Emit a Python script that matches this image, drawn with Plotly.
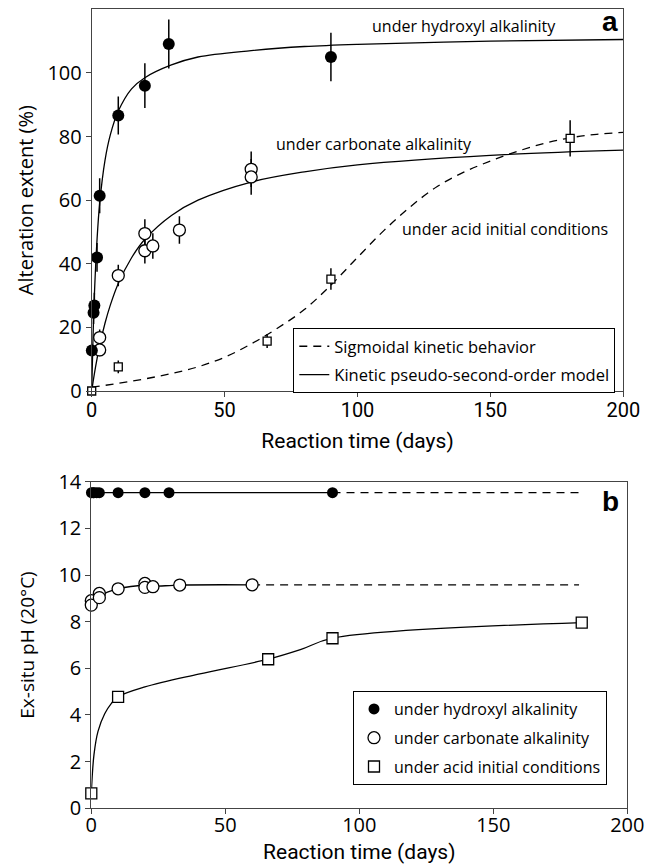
import plotly.graph_objects as go

# ---------------- Panel a: alteration extent ----------------
hyd_t = [0.05, 0.7, 1, 2, 3, 10, 20, 29, 90]
hyd_alt = [12.7, 24.6, 26.9, 42.0, 61.4, 86.6, 96.0, 109.1, 105.0]
hyd_err = [2.0, 3.5, 4.0, 4.5, 5.5, 6.0, 7.0, 7.7, 7.6]

carb_t = [3, 3, 10, 20, 20, 23, 33, 60, 60]
carb_alt = [16.8, 12.9, 36.3, 49.5, 44.1, 45.6, 50.6, 69.7, 67.3]
carb_err = [2.5, 2.0, 3.4, 4.5, 4.0, 4.0, 4.3, 5.6, 5.6]

acid_t = [0, 10, 66, 90, 180]
acid_alt = [0.0, 7.6, 15.7, 35.2, 79.4]
acid_err = [0.8, 2.0, 2.2, 3.4, 5.7]

# fitted curves
hyd_fit_t = [0, 0.5, 1, 2, 3, 5, 7, 10, 15, 20, 30, 40, 60, 80, 100, 150, 200]
hyd_fit_y = [0, 17, 30, 47.5, 59, 72.5, 80.5, 88, 95, 98.5, 102.5, 105, 107, 108.3, 109, 110, 110.5]

carb_fit_t = [0, 1, 2, 3, 5, 7, 10, 15, 20, 30, 40, 60, 80, 100, 150, 200]
carb_fit_y = [0, 5.4, 10.1, 14.3, 21.3, 27, 33.8, 41.9, 47.7, 55.2, 60, 65.7, 68.9, 71.1, 74.1, 75.7]

sig_fit_t = [0, 10, 20, 30, 40, 50, 60, 70, 80, 90, 100, 110, 120, 130, 140, 150, 160, 170, 180, 190, 200]
sig_fit_y = [1.2, 2.4, 3.8, 5.5, 7.6, 10.6, 14.8, 19.8, 25.6, 33.3, 42, 50.5, 58, 64.3, 68.8, 72.3, 75.3,
             77.8, 79.6, 80.7, 81.3]

# ---------------- Panel b: ex-situ pH ----------------
hyd_ph_t = [0.05, 0.7, 1, 2, 3, 10, 20, 29, 90]
hyd_ph = [13.53, 13.53, 13.53, 13.53, 13.53, 13.53, 13.53, 13.53, 13.53]
hyd_ph_ext_t = [90, 184]
hyd_ph_ext_y = [13.53, 13.53]

carb_ph_t = [0, 0, 3, 3, 10, 20, 20, 23, 33, 60]
carb_ph = [8.90, 8.71, 9.21, 9.03, 9.41, 9.64, 9.47, 9.50, 9.57, 9.58]
carb_line_t = [0, 3, 10, 20, 23, 33, 60]
carb_line_y = [8.78, 9.1, 9.41, 9.55, 9.52, 9.57, 9.58]
carb_ph_ext_t = [60, 182]
carb_ph_ext_y = [9.58, 9.58]

acid_ph_t = [0, 10, 66, 90, 183]
acid_ph = [0.64, 4.78, 6.39, 7.29, 7.96]
acid_line_t = [0, 1, 2.5, 5, 7.5, 10, 20, 40, 66, 78, 90, 183]
acid_line_y = [0.64, 2.3, 3.3, 4.05, 4.5, 4.78, 5.2, 5.75, 6.39, 6.8, 7.29, 7.96]

x_ticks = [0, 50, 100, 150, 200]
ya_ticks = [0, 20, 40, 60, 80, 100]
yb_ticks = [0, 2, 4, 6, 8, 10, 12, 14]

LINE = dict(color='black', width=1.3)
DASH = dict(color='black', width=1.3, dash='8px,6px')
ERR = lambda arr: dict(type='data', array=arr, visible=True, width=0, thickness=1.5, color='black')
OS = 'Open Sans'
RB = 'Roboto'

fig = go.Figure()

# panel a curves
fig.add_trace(go.Scatter(x=sig_fit_t, y=sig_fit_y, mode='lines', line=DASH, line_shape='spline',
                         name='Sigmoidal kinetic behavior', legend='legend', legendrank=1,
                         legendgroup='g1', xaxis='x', yaxis='y', hoverinfo='skip'))
fig.add_trace(go.Scatter(x=hyd_fit_t, y=hyd_fit_y, mode='lines', line=LINE, line_shape='spline',
                         name='Kinetic pseudo-second-order model', legend='legend', legendrank=2,
                         legendgroup='g2', xaxis='x', yaxis='y', hoverinfo='skip'))
fig.add_trace(go.Scatter(x=carb_fit_t, y=carb_fit_y, mode='lines', line=LINE, line_shape='spline',
                         showlegend=False, xaxis='x', yaxis='y', hoverinfo='skip'))

# panel a data
fig.add_trace(go.Scatter(x=acid_t, y=acid_alt, mode='markers', error_y=ERR(acid_err),
                         marker=dict(symbol='square', size=8, color='white', line=dict(color='black', width=1.3)),
                         showlegend=False, cliponaxis=False, xaxis='x', yaxis='y'))
fig.add_trace(go.Scatter(x=carb_t, y=carb_alt, mode='markers', error_y=ERR(carb_err),
                         marker=dict(symbol='circle', size=12, color='white', line=dict(color='black', width=1.3)),
                         showlegend=False, cliponaxis=False, xaxis='x', yaxis='y'))
fig.add_trace(go.Scatter(x=hyd_t, y=hyd_alt, mode='markers', error_y=ERR(hyd_err),
                         marker=dict(symbol='circle', size=12, color='black'),
                         showlegend=False, cliponaxis=False, xaxis='x', yaxis='y'))

# panel b lines
fig.add_trace(go.Scatter(x=hyd_ph_t, y=hyd_ph, mode='lines', line=LINE, showlegend=False,
                         xaxis='x2', yaxis='y2', hoverinfo='skip'))
fig.add_trace(go.Scatter(x=hyd_ph_ext_t, y=hyd_ph_ext_y, mode='lines', line=DASH, showlegend=False,
                         xaxis='x2', yaxis='y2', hoverinfo='skip'))
fig.add_trace(go.Scatter(x=carb_line_t, y=carb_line_y, mode='lines', line=LINE, line_shape='spline',
                         showlegend=False, xaxis='x2', yaxis='y2', hoverinfo='skip'))
fig.add_trace(go.Scatter(x=carb_ph_ext_t, y=carb_ph_ext_y, mode='lines', line=DASH, showlegend=False,
                         xaxis='x2', yaxis='y2', hoverinfo='skip'))
fig.add_trace(go.Scatter(x=acid_line_t, y=acid_line_y, mode='lines', line=LINE, line_shape='spline',
                         showlegend=False, xaxis='x2', yaxis='y2', hoverinfo='skip'))

# panel b markers
fig.add_trace(go.Scatter(x=hyd_ph_t, y=hyd_ph, mode='markers', name='under hydroxyl alkalinity',
                         marker=dict(symbol='circle', size=11, color='black'),
                         legend='legend2', legendgroup='h', legendrank=1, cliponaxis=False,
                         xaxis='x2', yaxis='y2'))
fig.add_trace(go.Scatter(x=carb_ph_t, y=carb_ph, mode='markers', name='under carbonate alkalinity',
                         marker=dict(symbol='circle', size=12, color='white', line=dict(color='black', width=1.3)),
                         legend='legend2', legendgroup='c', legendrank=2, cliponaxis=False,
                         xaxis='x2', yaxis='y2'))
fig.add_trace(go.Scatter(x=acid_ph_t, y=acid_ph, mode='markers', name='under acid initial conditions',
                         marker=dict(symbol='square', size=11, color='white', line=dict(color='black', width=1.3)),
                         legend='legend2', legendgroup='a', legendrank=3, cliponaxis=False,
                         xaxis='x2', yaxis='y2'))

axis_common = dict(showline=True, linecolor='#444', linewidth=1, mirror=True, ticks='outside',
                   ticklen=5, tickwidth=1, tickcolor='#444', showgrid=False, zeroline=False,
                   automargin=False)

fig.update_layout(
    width=654, height=864,
    margin=dict(l=0, r=0, t=0, b=0, autoexpand=False),
    paper_bgcolor='white', plot_bgcolor='white',
    xaxis=dict(domain=[91.7 / 654, 623.3 / 654], range=[0, 200], tickvals=x_ticks, anchor='y',
               tickfont=dict(family=RB, size=20, color='black'), ticklabelstandoff=-4,
               title=dict(text='Reaction time (days)', font=dict(family=RB, size=21, color='black'), standoff=12),
               **axis_common),
    yaxis=dict(domain=[1 - 391 / 864, 1 - 9.3 / 864], range=[0, 120], tickvals=ya_ticks, anchor='x',
               tickfont=dict(family=OS, size=20, color='black'),
               title=dict(text='Alteration extent (%)', font=dict(family=OS, size=20, color='black'), standoff=8),
               **axis_common),
    xaxis2=dict(domain=[91.3 / 654, 627.3 / 654], range=[0, 200], tickvals=x_ticks, anchor='y2',
                tickfont=dict(family=OS, size=20, color='black'), ticklabelstandoff=-6,
                title=dict(text='Reaction time (days)', font=dict(family=RB, size=21, color='black'), standoff=10),
                **axis_common),
    yaxis2=dict(domain=[1 - 808.3 / 864, 1 - 481.7 / 864], range=[0, 14], tickvals=yb_ticks, anchor='x2',
                tickfont=dict(family=OS, size=20, color='black'),
                title=dict(text='Ex-situ pH (20°C)', font=dict(family=OS, size=19, color='black'), standoff=18),
                **axis_common),
    legend=dict(x=293.3 / 654, y=1 - 328 / 864, xanchor='left', yanchor='top',
                bgcolor='white', bordercolor='black', borderwidth=1,
                font=dict(family=OS, size=16.5, color='black'), tracegroupgap=4),
    legend2=dict(x=353 / 654, y=1 - 691 / 864, xanchor='left', yanchor='top',
                 bgcolor='white', bordercolor='black', borderwidth=1,
                 font=dict(family=OS, size=16, color='black'), tracegroupgap=5),
    annotations=[
        dict(text='under hydroxyl alkalinity', x=140, y=114.7, xref='x', yref='y', showarrow=False,
             xanchor='center', yanchor='middle', font=dict(family=OS, size=16, color='black')),
        dict(text='under carbonate alkalinity', x=106.3, y=77.8, xref='x', yref='y', showarrow=False,
             xanchor='center', yanchor='middle', font=dict(family=OS, size=16, color='black')),
        dict(text='under acid initial conditions', x=155.4, y=50.8, xref='x', yref='y', showarrow=False,
             xanchor='center', yanchor='middle', font=dict(family=OS, size=16, color='black')),
        dict(text='<b>a</b>', x=610 / 654, y=1 - 22 / 864, xref='paper', yref='paper', showarrow=False,
             xanchor='center', yanchor='middle', font=dict(family='Liberation Sans', size=28, color='black')),
        dict(text='<b>b</b>', x=610 / 654, y=1 - 501 / 864, xref='paper', yref='paper', showarrow=False,
             xanchor='center', yanchor='middle', font=dict(family='Liberation Sans', size=28, color='black')),
    ],
)

fig.write_html('out.html')
